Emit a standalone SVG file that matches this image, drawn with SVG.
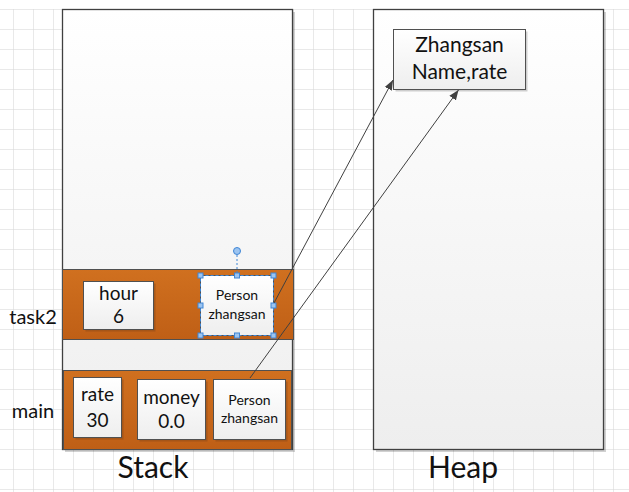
<svg xmlns="http://www.w3.org/2000/svg" width="629" height="492" viewBox="0 0 629 492">
<defs>
<pattern id="grid" x="13" y="9" width="20" height="20" patternUnits="userSpaceOnUse">
<path d="M0 0V20M0 0H20" fill="none" stroke="#d4d4d4" stroke-width="1"/>
</pattern>
<linearGradient id="bigFill" x1="0" y1="0" x2="0" y2="1">
<stop offset="0" stop-color="#ffffff"/>
<stop offset="1" stop-color="#eeeeee"/>
</linearGradient>
<linearGradient id="boxFill" x1="0" y1="0" x2="0" y2="1">
<stop offset="0" stop-color="#ffffff"/>
<stop offset="1" stop-color="#eeeeee"/>
</linearGradient>
<linearGradient id="orange" x1="0" y1="0" x2="0" y2="1">
<stop offset="0" stop-color="#d0701f"/>
<stop offset="1" stop-color="#bf5f16"/>
</linearGradient>
<marker id="arr" viewBox="0 0 10 10" refX="10" refY="5" markerWidth="10" markerHeight="10" markerUnits="userSpaceOnUse" orient="auto">
<path d="M0 1L10 5L0 9Z" fill="#404040"/>
</marker>
</defs>
<style>
.big{fill:url(#bigFill);stroke:#404040;stroke-width:1.3}
.frame{fill:url(#orange);stroke:#505050;stroke-width:1}
.box{fill:url(#boxFill);stroke:#505050;stroke-width:1}
.shadow{fill:#000;opacity:0.18}
text{font-family:Lato,"Liberation Sans",sans-serif;fill:#111;text-anchor:middle}
.lbl{font-size:20px}
.hl{font-size:21px}
.val{font-size:19px}
.sm{font-size:14px}
.title{font-size:30px}
.conn{fill:none;stroke:#404040;stroke-width:1}
.handle{fill:#9cc4f0;stroke:#3f86d6;stroke-width:1}
</style>
<rect x="0" y="0" width="629" height="492" fill="#ffffff"/>
<rect x="0" y="9" width="629" height="483" fill="url(#grid)"/>

<g id="stack">
<rect x="65" y="12" width="230" height="440" class="shadow" opacity="0.1"/>
<rect x="62.5" y="9.5" width="230" height="440" class="big"/>
<text x="153" y="478" class="title">Stack</text>
</g>

<g id="heap">
<rect x="376" y="12" width="230" height="440" class="shadow" opacity="0.1"/>
<rect x="373.5" y="9.5" width="230" height="440" class="big"/>
<text x="463" y="478" class="title">Heap</text>
</g>

<g id="task2">
<rect x="62.5" y="269.5" width="231" height="70" class="frame"/>
<text x="33" y="324" class="lbl">task2</text>
</g>

<g id="hour">
<rect x="85.5" y="283.5" width="70" height="48" fill="#8a4a1a" opacity="0.5"/>
<rect x="83.5" y="281.5" width="70" height="48" class="box"/>
<text x="118.5" y="300" class="val">hour</text>
<text x="118.5" y="323" class="val">6</text>
</g>

<g id="task2-person">
<rect x="200.5" y="275.5" width="73" height="60" class="box"/>
<rect x="200.5" y="275.5" width="73" height="60" fill="none" stroke="#3f86d6" stroke-width="1" stroke-dasharray="3,2"/>
<text x="237" y="300" class="sm">Person</text>
<text x="237" y="319" class="sm">zhangsan</text>
<line x1="237" y1="251" x2="237" y2="275" stroke="#3f86d6" stroke-width="1" stroke-dasharray="2,2"/>
<circle cx="237" cy="251" r="3.5" class="handle"/>
<rect x="198" y="273" width="5" height="5" class="handle"/>
<rect x="234.5" y="273" width="5" height="5" class="handle"/>
<rect x="271" y="273" width="5" height="5" class="handle"/>
<rect x="198" y="303" width="5" height="5" class="handle"/>
<rect x="271" y="303" width="5" height="5" class="handle"/>
<rect x="198" y="333" width="5" height="5" class="handle"/>
<rect x="234.5" y="333" width="5" height="5" class="handle"/>
<rect x="271" y="333" width="5" height="5" class="handle"/>
</g>

<g id="main">
<rect x="63.5" y="370.5" width="228" height="79" class="frame"/>
<text x="33" y="418" class="lbl">main</text>
</g>

<g id="rate">
<rect x="75.5" y="379.5" width="48" height="60" fill="#8a4a1a" opacity="0.5"/>
<rect x="73.5" y="377.5" width="48" height="60" class="box"/>
<text x="97.5" y="401" class="val">rate</text>
<text x="97.5" y="427" class="val">30</text>
</g>

<g id="money">
<rect x="139.5" y="381.5" width="68" height="60" fill="#8a4a1a" opacity="0.5"/>
<rect x="137.5" y="379.5" width="68" height="60" class="box"/>
<text x="171.5" y="404" class="val">money</text>
<text x="171.5" y="428" class="val">0.0</text>
</g>

<g id="main-person">
<rect x="215.5" y="381.5" width="72" height="60" fill="#8a4a1a" opacity="0.5"/>
<rect x="213.5" y="379.5" width="72" height="60" class="box"/>
<text x="249.5" y="405" class="sm">Person</text>
<text x="249.5" y="423" class="sm">zhangsan</text>
</g>

<g id="zhangsan">
<rect x="395.5" y="31.5" width="132" height="60" class="shadow" opacity="0.12"/>
<rect x="393.5" y="29.5" width="132" height="60" class="box"/>
<text x="459.5" y="52" class="hl">Zhangsan</text>
<text x="459.5" y="79" class="hl">Name,rate</text>
</g>

<g id="connectors">
<line x1="274" y1="303" x2="393" y2="80" class="conn" marker-end="url(#arr)"/>
<line x1="250" y1="378" x2="458.5" y2="90" class="conn" marker-end="url(#arr)"/>
</g>
</svg>
